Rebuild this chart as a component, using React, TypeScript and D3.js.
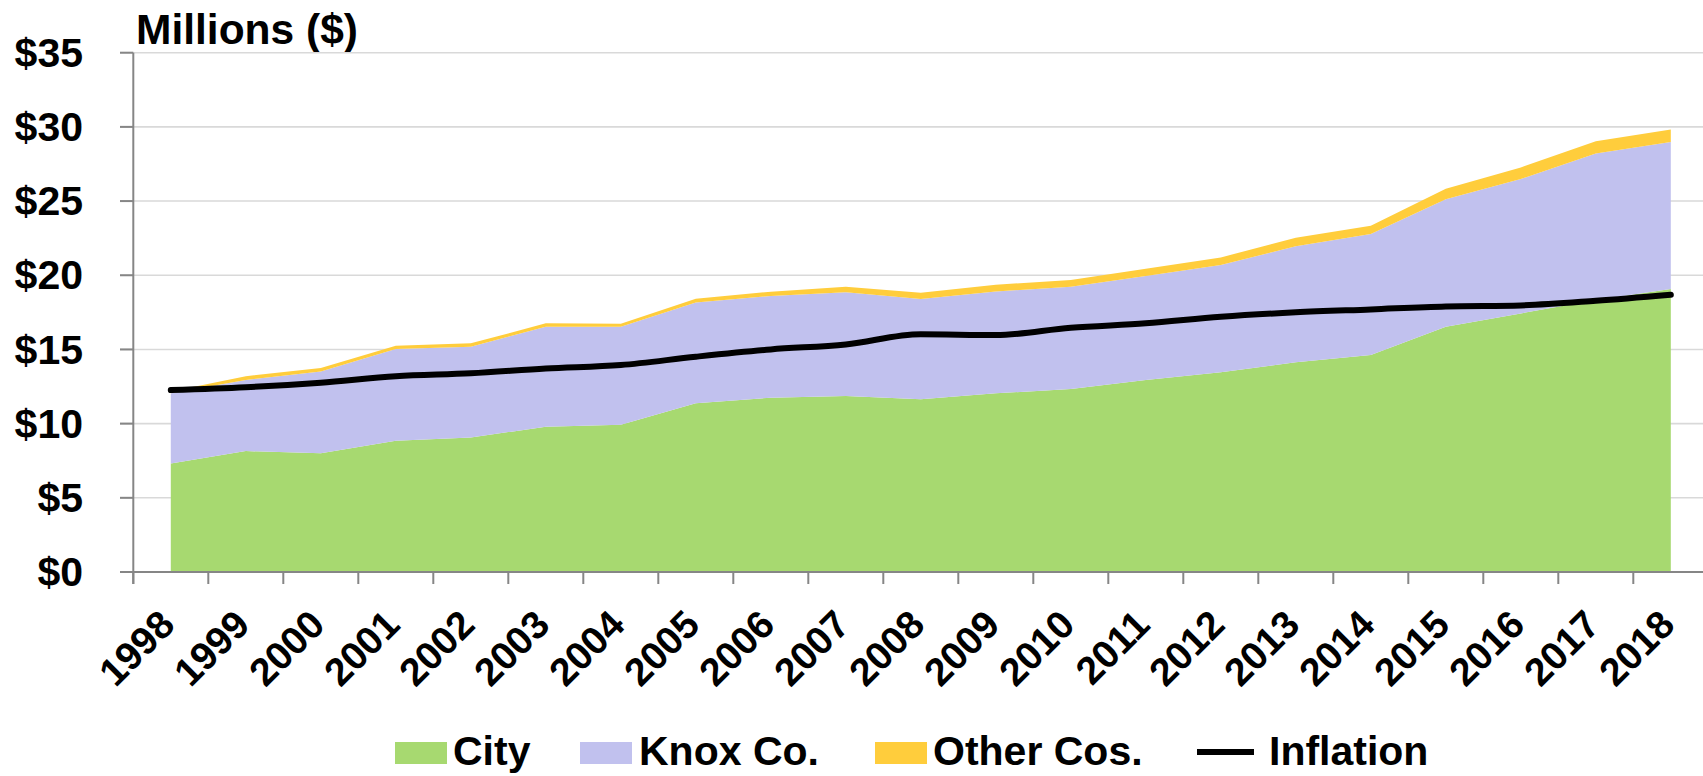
import React from "react";
import * as d3 from "d3";

const years = [
  "1998", "1999", "2000", "2001", "2002", "2003", "2004", "2005", "2006", "2007",
  "2008", "2009", "2010", "2011", "2012", "2013", "2014", "2015", "2016", "2017", "2018",
];

const city = [
  7.32, 8.15, 8.0, 8.85, 9.07, 9.79, 9.93, 11.37, 11.75, 11.86,
  11.64, 12.04, 12.33, 12.94, 13.46, 14.13, 14.62, 16.53, 17.43, 18.33, 19.07,
];
const knox = [
  4.72, 4.79, 5.52, 6.18, 6.11, 6.74, 6.6, 6.8, 6.85, 6.99,
  6.76, 6.87, 6.9, 7.01, 7.23, 7.82, 8.16, 8.6, 9.05, 9.88, 9.91,
];
const otherCos = [
  0.12, 0.26, 0.23, 0.22, 0.23, 0.23, 0.2, 0.25, 0.29, 0.38,
  0.42, 0.45, 0.45, 0.49, 0.51, 0.58, 0.56, 0.7, 0.79, 0.83, 0.85,
];
const inflation = [
  12.26, 12.45, 12.76, 13.2, 13.39, 13.72, 13.95, 14.51, 15.0, 15.34,
  16.02, 15.97, 16.46, 16.76, 17.2, 17.5, 17.7, 17.9, 17.97, 18.28, 18.69,
];

const yTicks = [0, 5, 10, 15, 20, 25, 30, 35];

const seriesNames = ["City", "Knox Co.", "Other Cos."];
const colors = ["#a7d970", "#c1c1ee", "#ffcd3c"];

const W = 1703;
const H = 776;
const left = 133.3;
const top = 52.7;
const bottom = 572;
const font = "'Liberation Sans', Arial, sans-serif";

export default function App() {
  const x = d3.scaleBand<string>().domain(years).range([left, left + 75 * years.length]);
  const y = d3.scaleLinear().domain([0, 35]).range([bottom, top]);
  const cx = (yr: string) => (x(yr) as number) + x.bandwidth() / 2;

  const rows = years.map((yr, i) => ({ yr, c: city[i], k: knox[i], o: otherCos[i] }));
  const stacked = d3.stack<any>().keys(["c", "k", "o"])(rows);

  const area = d3
    .area<any>()
    .x((d) => cx(d.data.yr))
    .y0((d) => y(d[0]))
    .y1((d) => y(d[1]));

  const line = d3
    .line<number>()
    .x((_, i) => cx(years[i]))
    .y((d) => y(d))
    .curve(d3.curveMonotoneX);

  const legend = [
    { name: seriesNames[0], color: colors[0], x: 395, tx: 453, kind: "box" },
    { name: seriesNames[1], color: colors[1], x: 580, tx: 639, kind: "box" },
    { name: seriesNames[2], color: colors[2], x: 875, tx: 933, kind: "box" },
    { name: "Inflation", color: "#000", x: 1197, tx: 1269, kind: "line" },
  ];

  return (
    <svg
      width={W}
      height={H}
      style={{ position: "absolute", left: 0, top: 0, background: "#fff" }}
      fontFamily={font}
      fontWeight="bold"
    >
      <text x={136} y={43.5} fontSize={42.5}>
        Millions ($)
      </text>

      {yTicks.map((t) => (
        <g key={t}>
          <line x1={120} x2={W} y1={y(t)} y2={y(t)} stroke="#d9d9d9" strokeWidth={1.6} />
          <text x={83} y={y(t) + 14.2} fontSize={41} textAnchor="end">
            ${t}
          </text>
        </g>
      ))}

      {stacked.map((s, i) => (
        <path key={i} d={area(s) as string} fill={colors[i]} />
      ))}

      <path
        d={line(inflation) as string}
        fill="none"
        stroke="#000"
        strokeWidth={6}
        strokeLinecap="round"
        strokeLinejoin="round"
      />

      {/* axes */}
      <line x1={left} x2={left} y1={top} y2={bottom + 12} stroke="#868686" strokeWidth={2} />
      {yTicks.map((t) => (
        <line key={t} x1={120} x2={left} y1={y(t)} y2={y(t)} stroke="#868686" strokeWidth={2} />
      ))}
      <line x1={120} x2={W} y1={bottom} y2={bottom} stroke="#868686" strokeWidth={2} />
      {years.map((yr) => (
        <line
          key={yr}
          x1={x(yr) as number}
          x2={x(yr) as number}
          y1={bottom}
          y2={bottom + 12}
          stroke="#868686"
          strokeWidth={2}
        />
      ))}
      {years.map((yr) => (
        <text
          key={yr}
          transform={`translate(${cx(yr) + 6},627) rotate(-45)`}
          textAnchor="end"
          fontSize={39}
        >
          {yr}
        </text>
      ))}

      {legend.map((l) => (
        <g key={l.name}>
          {l.kind === "box" ? (
            <rect x={l.x} y={742} width={52} height={22} fill={l.color} />
          ) : (
            <line x1={l.x} x2={l.x + 57} y1={752} y2={752} stroke="#000" strokeWidth={6} />
          )}
          <text x={l.tx} y={765} fontSize={41}>
            {l.name}
          </text>
        </g>
      ))}
    </svg>
  );
}
